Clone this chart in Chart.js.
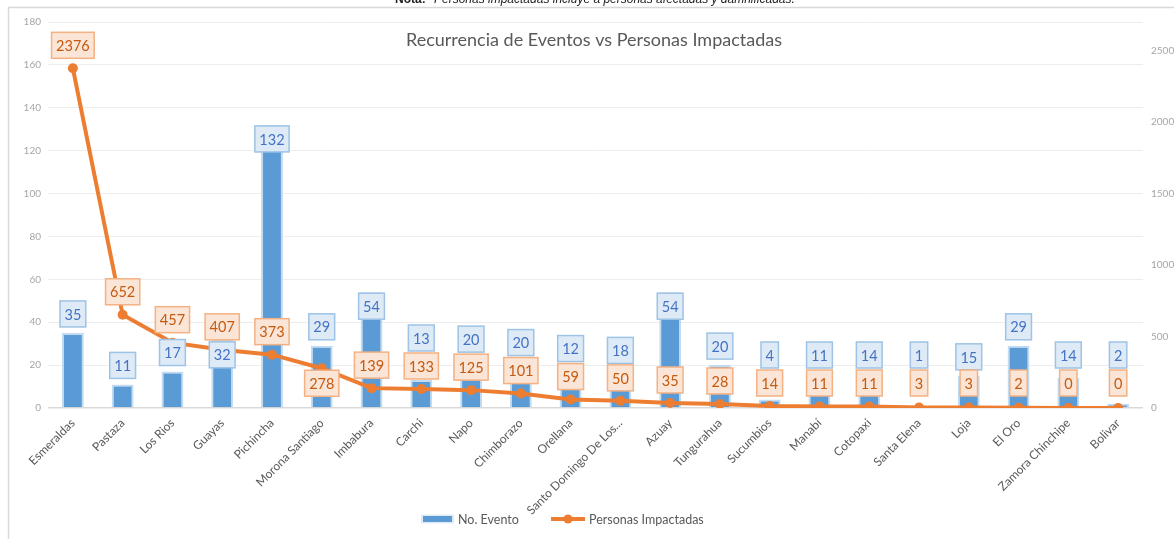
<!DOCTYPE html>
<html>
<head>
<meta charset="utf-8">
<script src="https://cdn.jsdelivr.net/npm/chart.js@4.4.1/dist/chart.umd.min.js"></script>
<style>
  body { margin: 0; background: #fff; }
  canvas { display: block; }
</style>
</head>
<body>
<canvas id="grafico" width="1174" height="539"></canvas>
<script>
const provincias = ['Esmeraldas', 'Pastaza', 'Los Rios', 'Guayas', 'Pichincha', 'Morona Santiago',
  'Imbabura', 'Carchi', 'Napo', 'Chimborazo', 'Orellana', 'Santo Domingo De Los...', 'Azuay',
  'Tungurahua', 'Sucumbios', 'Manabí', 'Cotopaxi', 'Santa Elena', 'Loja', 'El Oro',
  'Zamora Chinchipe', 'Bolivar'];
const eventos = [35, 11, 17, 32, 132, 29, 54, 13, 20, 20, 12, 18, 54, 20, 4, 11, 14, 1, 15, 29, 14, 2];
const personas = [2376, 652, 457, 407, 373, 278, 139, 133, 125, 101, 59, 50, 35, 28, 14, 11, 11, 3, 3, 2, 0, 0];
const ticksEventos = [0, 20, 40, 60, 80, 100, 120, 140, 160, 180];
const ticksPersonas = [0, 500, 1000, 1500, 2000, 2500];

const AZUL = '#5B9BD5';
const NARANJA = '#ED7D31';
const FUENTE = 'Lato, "Open Sans", sans-serif';

function caja(ctx, texto, cx, cy, relleno, borde, color) {
  ctx.font = '14.5px ' + FUENTE;
  const w = ctx.measureText(texto).width + 9;
  const h = 26;
  ctx.fillStyle = relleno;
  ctx.fillRect(cx - w / 2, cy - h / 2, w, h);
  ctx.strokeStyle = borde;
  ctx.lineWidth = 1.5;
  ctx.strokeRect(cx - w / 2, cy - h / 2, w, h);
  ctx.fillStyle = color;
  ctx.textAlign = 'center';
  ctx.textBaseline = 'middle';
  ctx.fillText(texto, cx, cy + 1);
}

const marco = {
  id: 'marco',
  beforeDraw(chart) {
    const ctx = chart.ctx;
    ctx.save();
    ctx.fillStyle = '#fff';
    ctx.fillRect(0, 0, chart.width, chart.height);
    ctx.strokeStyle = '#D9D9D9';
    ctx.lineWidth = 1.5;
    ctx.strokeRect(8.5, 7.5, chart.width + 20, chart.height + 20);
    // nota recortada arriba
    ctx.fillStyle = '#222';
    ctx.textBaseline = 'alphabetic';
    ctx.textAlign = 'left';
    ctx.font = 'bold 12px "Liberation Sans", sans-serif';
    ctx.fillText('Nota:', 395, 3);
    ctx.font = 'italic 12px "Liberation Sans", sans-serif';
    ctx.fillText('Personas impactadas incluye a personas afectadas y damnificadas.', 434, 3);
    ctx.restore();
  },
  afterDraw(chart) {
    const ctx = chart.ctx;
    ctx.save();
    ctx.fillStyle = '#595959';
    ctx.font = '18px ' + FUENTE;
    ctx.textAlign = 'center';
    ctx.textBaseline = 'middle';
    ctx.fillText('Recurrencia de Eventos vs Personas Impactadas', 594, 40);

    // leyenda
    const ly = 519;
    ctx.fillStyle = '#DEEBF7';
    ctx.fillRect(421, ly - 4.5, 33, 9);
    ctx.fillStyle = AZUL;
    ctx.fillRect(423, ly - 3, 29, 6);
    ctx.strokeStyle = NARANJA;
    ctx.lineWidth = 4;
    ctx.beginPath();
    ctx.moveTo(551, ly);
    ctx.lineTo(585, ly);
    ctx.stroke();
    ctx.fillStyle = NARANJA;
    ctx.beginPath();
    ctx.arc(568, ly, 4.5, 0, Math.PI * 2);
    ctx.fill();
    ctx.fillStyle = '#595959';
    ctx.font = '12.5px ' + FUENTE;
    ctx.textAlign = 'left';
    ctx.fillText('No. Evento', 458, ly + 1);
    ctx.fillText('Personas Impactadas', 589, ly + 1);
    ctx.restore();
  }
};

const etiquetas = {
  id: 'etiquetas',
  afterDatasetsDraw(chart) {
    const ctx = chart.ctx;
    const barras = chart.getDatasetMeta(0).data;
    const puntos = chart.getDatasetMeta(1).data;
    const eje = chart.scales.y.getPixelForValue(0);
    ctx.save();
    barras.forEach((barra, i) => {
      const p = puntos[i];
      let cyN = Math.min(p.y - 23, eje - 25);
      let cyA;
      if (eje - barra.y > 100) {
        cyA = barra.y + 14;
      } else {
        cyA = barra.y - 19;
        if (Math.abs(cyA - cyN) < 26) {
          if (p.y - barra.y > 15 && p.y + 28 <= eje) {
            cyN = p.y + 15;
          } else {
            cyA = (eje - (cyN + 13) >= 40) ? cyN + 28 : cyN - 28;
          }
        }
      }
      caja(ctx, String(eventos[i]), barra.x, cyA, '#DEEBF7', '#9DC3E6', '#4472C4');
      caja(ctx, String(personas[i]), p.x, cyN, '#FBE5D6', '#F4B183', '#C55A11');
    });
    ctx.restore();
  }
};

new Chart(document.getElementById('grafico'), {
  data: {
    labels: provincias,
    datasets: [{
      type: 'bar',
      label: 'No. Evento',
      data: eventos,
      yAxisID: 'y',
      backgroundColor: AZUL,
      borderColor: 'rgba(189,215,238,0.9)',
      borderWidth: 2,
      barPercentage: 0.44,
      categoryPercentage: 1,
      order: 1
    }, {
      type: 'line',
      label: 'Personas Impactadas',
      data: personas,
      yAxisID: 'y1',
      borderColor: NARANJA,
      backgroundColor: NARANJA,
      borderWidth: 4,
      pointRadius: 5,
      pointBackgroundColor: NARANJA,
      pointBorderWidth: 0,
      tension: 0,
      order: 0
    }]
  },
  options: {
    responsive: false,
    animation: false,
    devicePixelRatio: 1,
    layout: { padding: { top: 22, left: 0, right: 0, bottom: 0 } },
    plugins: { legend: { display: false }, tooltip: { enabled: false } },
    scales: {
      x: {
        grid: { display: false, drawTicks: false },
        border: { display: false },
        ticks: { minRotation: 45, maxRotation: 45, padding: 8, color: '#595959', font: { family: FUENTE, size: 12 } },
        afterFit(s) { s.height = 131; }
      },
      y: {
        position: 'left',
        min: 0,
        max: 180,
        afterBuildTicks(s) { s.ticks = ticksEventos.map(v => ({ value: v })); },
        grid: { color: c => c.tick.value === 0 ? '#D9D9D9' : '#EDEDED', lineWidth: c => c.tick.value === 0 ? 1.5 : 1, drawTicks: false },
        border: { display: false },
        ticks: { padding: 7, color: '#A6A6A6', font: { family: FUENTE, size: 10 }, callback: v => String(v) },
        afterFit(s) { s.width = 48; }
      },
      y1: {
        position: 'right',
        min: 0,
        max: 2700,
        afterBuildTicks(s) { s.ticks = ticksPersonas.map(v => ({ value: v })); },
        grid: { display: false, drawTicks: false },
        border: { display: false },
        ticks: { padding: 8, color: '#A6A6A6', font: { family: FUENTE, size: 10 }, callback: v => String(v) },
        afterFit(s) { s.width = 31; }
      }
    }
  },
  plugins: [marco, etiquetas]
});
</script>
</body>
</html>
